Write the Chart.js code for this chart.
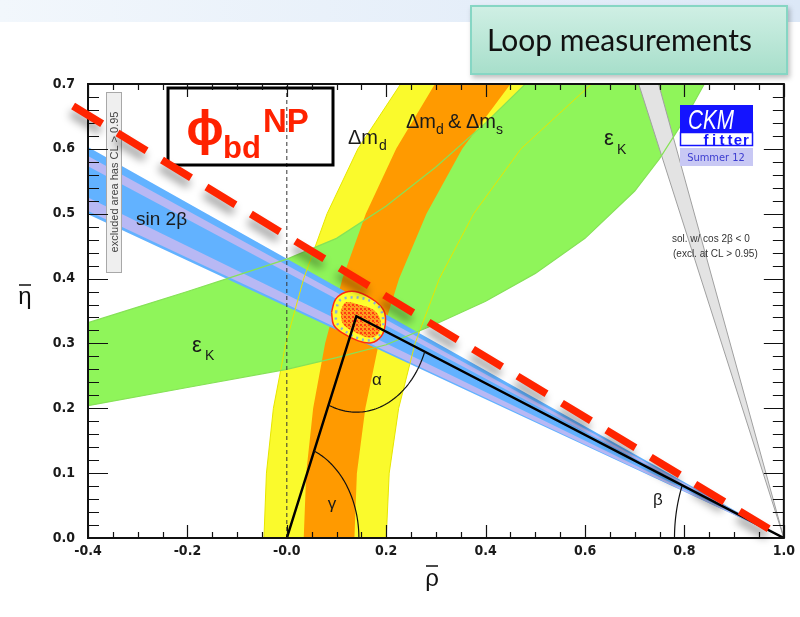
<!DOCTYPE html>
<html>
<head>
<meta charset="utf-8">
<script src="https://cdn.jsdelivr.net/npm/chart.js@4.4.1/dist/chart.umd.min.js"></script>
<style>
  html, body { margin: 0; padding: 0; background: #fff; }
  #wrap { position: relative; width: 800px; height: 617px; overflow: hidden; }
  #band { position: absolute; left: 0; top: 0; width: 800px; height: 22px;
          background: linear-gradient(to right, #f2f7fc, #dce8f7); }
  #chart { position: absolute; left: 0; top: 0; }
  #loop { position: absolute; left: 470px; top: 5px; width: 318px; height: 70px; box-sizing: border-box;
          border: 2px solid #86d6c4; background: linear-gradient(#cfefe4, #a8dfcb);
          box-shadow: 2px 3px 5px rgba(0,0,0,0.25);
          font-family: Lato, 'Open Sans', sans-serif; font-size: 30px; color: #111;
          padding-left: 15px; line-height: 64px; white-space: nowrap; }
</style>
</head>
<body>
<div id="wrap">
  <div id="band"></div>
  <canvas id="chart" width="800" height="617"></canvas>
  <div id="loop">Loop measurements</div>
</div>
<script>
// values, in (rho, eta)

// Δm_d band (yellow): outer / inner edge on a common eta grid
const dmdEta      = [0.0, 0.1, 0.2, 0.3, 0.4, 0.5, 0.6, 0.7];
const dmdOuterRho = [-0.046, -0.041, -0.027, -0.002, 0.034, 0.081, 0.143, 0.229];
const dmdInnerRho = [0.200, 0.206, 0.225, 0.258, 0.307, 0.376, 0.471, 0.613];
// Δm_d & Δm_s band (orange)
const dmsLeftRho  = [0.034, 0.039, 0.053, 0.077, 0.112, 0.159, 0.220, 0.298];
const dmsRightRho = [0.136, 0.141, 0.158, 0.185, 0.226, 0.281, 0.353, 0.450];
// εK band (green)
const ekUpperRho = [-0.4, -0.3, -0.2, -0.1, 0.0, 0.1, 0.2, 0.3, 0.4, 0.48];
const ekUpperEta = [0.332, 0.356, 0.380, 0.405, 0.430, 0.462, 0.512, 0.572, 0.640, 0.700];
const ekLowerRho = [-0.4, -0.2, 0.0, 0.1, 0.2, 0.3, 0.4, 0.5, 0.6, 0.7, 0.75, 0.8, 0.84];
const ekLowerEta = [0.204, 0.232, 0.260, 0.278, 0.298, 0.330, 0.365, 0.408, 0.462, 0.535, 0.585, 0.645, 0.700];
// sin 2β wedges: eta (upper, lower) at rho = -0.4, all meet at (1, 0)
const s2bOuterEta = [0.603, 0.499];
const s2bMidEta   = [0.589, 0.504];
const s2bInnerEta = [0.573, 0.525];
// cos 2β < 0 solution (grey wedge): rho where its edges reach eta = 0.7
const cosRhoTop = [0.708, 0.748];
// unitarity triangle
const triRho = [0.0, 0.14, 1.0];
const triEta = [0.0, 0.342, 0.0];
// global fit region
const fitOuterRho = [0.090, 0.098, 0.118, 0.144, 0.178, 0.196, 0.198, 0.190, 0.170, 0.144, 0.110, 0.094, 0.090];
const fitOuterEta = [0.348, 0.368, 0.379, 0.379, 0.365, 0.349, 0.329, 0.311, 0.301, 0.304, 0.317, 0.329, 0.348];
const fitRingRho  = [0.099, 0.106, 0.130, 0.160, 0.186, 0.194, 0.190, 0.168, 0.140, 0.112, 0.100, 0.099];
const fitRingEta  = [0.348, 0.366, 0.371, 0.368, 0.356, 0.335, 0.316, 0.305, 0.309, 0.322, 0.333, 0.348];
const fitInnerRho = [0.108, 0.118, 0.144, 0.174, 0.188, 0.186, 0.168, 0.138, 0.114, 0.108];
const fitInnerEta = [0.349, 0.363, 0.360, 0.352, 0.337, 0.317, 0.309, 0.317, 0.329, 0.349];
// new physics phase line (red dashes)
const npRho = [-0.43, 1.0];
const npEta = [0.666, 0.0];
// angle arcs at the triangle corners
const arcLabels = ['γ', 'α', 'β'];
const arcRadius = [0.145, 0.148, 0.22];
// axes
const xRange = [-0.4, 1.0];
const yRange = [0.0, 0.7];

const pts = (xs, ys) => xs.map((x, i) => ({ x: x, y: ys[i] }));
const wedge = (e) => [{ x: 1, y: 0 }, { x: xRange[0], y: e[0] }, { x: xRange[0], y: e[1] }, { x: 1, y: 0 }];

const tickFont = "'Liberation Sans Narrow', 'DejaVu Sans Condensed', 'Liberation Sans', sans-serif";
const textFont = "'Liberation Sans', Arial, sans-serif";

// orange hatching for the inner fit region
const pc = document.createElement('canvas');
pc.width = 4; pc.height = 4;
const pg = pc.getContext('2d');
pg.fillStyle = '#ff9c1e'; pg.fillRect(0, 0, 4, 4);
pg.fillStyle = '#ff3c12'; pg.fillRect(0, 0, 2, 2); pg.fillRect(2, 2, 1, 1);
const hatch = pg.createPattern(pc, 'repeat');

function poly(label, data, color, order, tension) {
  return { label, data, order, borderWidth: 0, backgroundColor: color, borderColor: color,
           fill: 'shape', pointRadius: 0, tension: tension || 0 };
}
function line(label, data, color, width, order, extra) {
  return Object.assign({ label, data, order, borderWidth: width, borderColor: color,
           fill: false, pointRadius: 0, tension: 0 }, extra || {});
}

const yellowPoly = pts(dmdOuterRho, dmdEta).concat(pts(dmdInnerRho, dmdEta).reverse());
const orangePoly = pts(dmsLeftRho, dmdEta).concat(pts(dmsRightRho, dmdEta).reverse());
const greenPoly  = pts(ekUpperRho, ekUpperEta).concat(pts(ekLowerRho, ekLowerEta).reverse());
const greyPoly   = [{ x: 1, y: 0 }, { x: cosRhoTop[0], y: yRange[1] }, { x: cosRhoTop[1], y: yRange[1] }, { x: 1, y: 0 }];

const datasets = [
  poly('dmd', yellowPoly, '#fafa2c', 100),
  poly('ek', greenPoly, '#8ff55a', 95),
  poly('dms', orangePoly, '#ff9a00', 90),
  poly('cos', greyPoly, '#e3e3e3', 85),
  poly('s2b95', wedge(s2bOuterEta), '#62b2ff', 80),
  poly('s2bmid', wedge(s2bMidEta), '#b8b8f4', 79),
  poly('s2b68', wedge(s2bInnerEta), '#62b2ff', 78),
  line('cosL', [greyPoly[0], greyPoly[1]], '#a0a0a0', 1, 70),
  line('cosR', [greyPoly[0], greyPoly[2]], '#a0a0a0', 1, 70),
  line('dmdOut', pts(dmdOuterRho, dmdEta), '#e6e600', 1, 66),
  line('dmdIn', pts(dmdInnerRho, dmdEta), '#e6e600', 1, 66),
  line('ekUp', pts(ekUpperRho, ekUpperEta), '#86e257', 1.2, 65),
  line('ekLow', pts(ekLowerRho, ekLowerEta), '#86e257', 1.2, 65),
  line('rho0', [{ x: 0, y: yRange[0] }, { x: 0, y: yRange[1] }], '#333', 1, 60, { borderDash: [4, 3] }),
  poly('fit95', pts(fitOuterRho, fitOuterEta), '#ffff2e', 40, 0.35),
  line('fit95edge', pts(fitOuterRho, fitOuterEta), '#ff2a10', 1.5, 39, { tension: 0.35 }),
  poly('fit68', pts(fitInnerRho, fitInnerEta), hatch, 38, 0.35),
  line('fitdots', pts(fitRingRho, fitRingEta), '#8aaedb', 2.5, 37, { borderDash: [2, 4], tension: 0.35 }),
  line('tri', pts(triRho, triEta), '#000', 2.5, 30),
  line('NP', pts(npRho, npEta), '#ff2400', 7.5, 1, { borderDash: [34, 18], clip: false, borderCapStyle: 'butt' })
];

function txt(ctx, s, x, y, font, color, align) {
  ctx.font = font;
  ctx.fillStyle = color || '#1a1a1a';
  ctx.textAlign = align || 'left';
  ctx.textBaseline = 'alphabetic';
  ctx.fillText(s, x, y);
}

function drawFrame(chart) {
  const { ctx, chartArea: a, scales: { x, y } } = chart;
  ctx.save();
  ctx.strokeStyle = '#111';
  ctx.lineWidth = 1.2;
  ctx.beginPath();
  const nx = Math.round((xRange[1] - xRange[0]) / 0.05);
  for (let i = 0; i <= nx; i++) {
    const px = Math.round(x.getPixelForValue(xRange[0] + i * 0.05)) + 0.5;
    const len = i % 4 === 0 ? 13 : 6;
    ctx.moveTo(px, a.bottom); ctx.lineTo(px, a.bottom - len);
    ctx.moveTo(px, a.top); ctx.lineTo(px, a.top + len);
  }
  const ny = Math.round((yRange[1] - yRange[0]) / 0.02);
  for (let i = 0; i <= ny; i++) {
    const py = Math.round(y.getPixelForValue(yRange[0] + i * 0.02)) + 0.5;
    const len = i % 5 === 0 ? 20 : 11;
    ctx.moveTo(a.left, py); ctx.lineTo(a.left + len, py);
    ctx.moveTo(a.right, py); ctx.lineTo(a.right - len, py);
  }
  ctx.stroke();
  ctx.lineWidth = 2;
  ctx.strokeRect(a.left, a.top, a.right - a.left, a.bottom - a.top);
  ctx.restore();
}

function drawArcs(chart) {
  const { ctx, scales: { x, y } } = chart;
  const n = triRho.length;
  ctx.save();
  ctx.strokeStyle = '#111';
  ctx.lineWidth = 1.2;
  for (let k = 0; k < n; k++) {
    const cx = triRho[k], cy = triEta[k];
    const p = (k + n - 1) % n, q = (k + 1) % n;
    let a0 = Math.atan2(triEta[p] - cy, triRho[p] - cx);
    let a1 = Math.atan2(triEta[q] - cy, triRho[q] - cx);
    if (a1 < a0) { const t = a0; a0 = a1; a1 = t; }
    if (a1 - a0 > Math.PI) { const t = a0; a0 = a1; a1 = t + 2 * Math.PI; }
    ctx.beginPath();
    for (let s = 0; s <= 60; s++) {
      const th = a0 + (a1 - a0) * s / 60;
      const px = x.getPixelForValue(cx + arcRadius[k] * Math.cos(th));
      const py = y.getPixelForValue(cy + arcRadius[k] * Math.sin(th));
      if (s === 0) ctx.moveTo(px, py); else ctx.lineTo(px, py);
    }
    ctx.stroke();
  }
  ctx.restore();
}

function drawNotes(chart) {
  const ctx = chart.ctx;
  ctx.save();
  // band labels
  txt(ctx, 'sin 2β', 136, 225, '19px ' + textFont);
  txt(ctx, 'ε', 192, 352, '22px ' + textFont);
  txt(ctx, 'K', 205, 360, '14px ' + textFont);
  txt(ctx, 'ε', 604, 145, '22px ' + textFont);
  txt(ctx, 'K', 617, 154, '14px ' + textFont);
  txt(ctx, 'Δm', 348, 144, '20px ' + textFont);
  txt(ctx, 'd', 379, 150, '14px ' + textFont);
  txt(ctx, 'Δm', 406, 128, '20px ' + textFont);
  txt(ctx, 'd', 436, 134, '14px ' + textFont);
  txt(ctx, '&', 448, 128, '20px ' + textFont);
  txt(ctx, 'Δm', 466, 128, '20px ' + textFont);
  txt(ctx, 's', 496, 134, '14px ' + textFont);
  txt(ctx, arcLabels[1], 377, 385, '17px ' + textFont, '#1a1a1a', 'center');
  txt(ctx, arcLabels[0], 332, 509, '17px ' + textFont, '#1a1a1a', 'center');
  txt(ctx, arcLabels[2], 658, 505, '17px ' + textFont, '#1a1a1a', 'center');

  // cos 2β note
  txt(ctx, 'sol. w/ cos 2β < 0', 672, 242, '10px ' + textFont, '#333');
  txt(ctx, '(excl. at CL > 0.95)', 673, 257, '10px ' + textFont, '#333');

  // excluded area tag
  ctx.fillStyle = '#efefef';
  ctx.fillRect(106, 92, 15, 180);
  ctx.strokeStyle = '#a8a8a8';
  ctx.lineWidth = 1;
  ctx.strokeRect(106.5, 92.5, 15, 180);
  ctx.save();
  ctx.translate(118, 182);
  ctx.rotate(-Math.PI / 2);
  txt(ctx, 'excluded area has CL > 0.95', 0, 0, '11px ' + textFont, '#444', 'center');
  ctx.restore();

  // CKMfitter logo
  ctx.fillStyle = '#1414ff';
  ctx.fillRect(680, 105, 73, 27);
  ctx.save();
  ctx.translate(688, 129);
  ctx.scale(0.74, 1);
  txt(ctx, 'CKM', 0, 0, 'italic 28px ' + textFont, '#fff');
  ctx.restore();
  ctx.fillStyle = '#fff';
  ctx.fillRect(680, 132, 73, 14);
  ctx.strokeStyle = '#1414ff';
  ctx.lineWidth = 1.5;
  ctx.strokeRect(680.5, 132.5, 72, 13);
  const fl = 'fitter';
  for (let i = 0; i < fl.length; i++) {
    txt(ctx, fl[i], 706 + i * 8, 145, 'bold 15px ' + textFont, '#1414ff', 'center');
  }
  ctx.fillStyle = '#c8c8f4';
  ctx.fillRect(680, 148, 73, 18);
  txt(ctx, 'Summer 12', 716, 161, '11px ' + tickFont, '#3c3cd0', 'center');

  // phi_bd^NP box
  ctx.strokeStyle = '#000';
  ctx.lineWidth = 3;
  ctx.strokeRect(168, 88, 165, 77);
  txt(ctx, 'ϕ', 205, 145, 'bold 50px ' + textFont, '#ff2200', 'center');
  txt(ctx, 'bd', 223, 158, 'bold 31px ' + textFont, '#ff2200');
  txt(ctx, 'NP', 263, 132, 'bold 33px ' + textFont, '#ff2200');

  // axis titles
  txt(ctx, 'ρ', 432, 586, '24px ' + textFont, '#111', 'center');
  txt(ctx, 'η', 25, 304, '24px ' + textFont, '#111', 'center');
  ctx.strokeStyle = '#111';
  ctx.lineWidth = 1.5;
  ctx.beginPath();
  ctx.moveTo(426, 566); ctx.lineTo(438, 566);
  ctx.moveTo(19, 285); ctx.lineTo(31, 285);
  ctx.stroke();
  ctx.restore();
}

const overlay = {
  id: 'overlay',
  beforeDatasetDraw(chart, args) {
    if (chart.data.datasets[args.index].label !== 'NP') return;
    drawArcs(chart);
    drawNotes(chart);
    drawFrame(chart);
    const ctx = chart.ctx;
    ctx.save();
    ctx.shadowColor = 'rgba(0,0,0,0.4)';
    ctx.shadowBlur = 9;
    ctx.shadowOffsetX = -2;
    ctx.shadowOffsetY = 7;
  },
  afterDatasetDraw(chart, args) {
    if (chart.data.datasets[args.index].label === 'NP') chart.ctx.restore();
  }
};

new Chart(document.getElementById('chart').getContext('2d'), {
  type: 'line',
  data: { datasets },
  options: {
    responsive: false,
    animation: false,
    layout: { padding: { left: 0, right: 12, top: 84, bottom: 0 } },
    plugins: { legend: { display: false }, tooltip: { enabled: false } },
    scales: {
      x: {
        type: 'linear', min: xRange[0], max: xRange[1],
        grid: { display: false, drawTicks: false },
        border: { display: false },
        ticks: { stepSize: 0.2, padding: 5, maxRotation: 0, autoSkip: false, color: '#1a1a1a',
                 font: { family: tickFont, size: 14, weight: 'bold' },
                 callback: v => Number(v).toFixed(1) },
        afterFit: s => { s.height = 79; }
      },
      y: {
        type: 'linear', min: yRange[0], max: yRange[1],
        grid: { display: false, drawTicks: false },
        border: { display: false },
        ticks: { stepSize: 0.1, padding: 13, color: '#1a1a1a',
                 font: { family: tickFont, size: 14, weight: 'bold' },
                 callback: v => Number(v).toFixed(1) },
        afterFit: s => { s.width = 88; }
      }
    }
  },
  plugins: [overlay]
});
</script>
</body>
</html>
